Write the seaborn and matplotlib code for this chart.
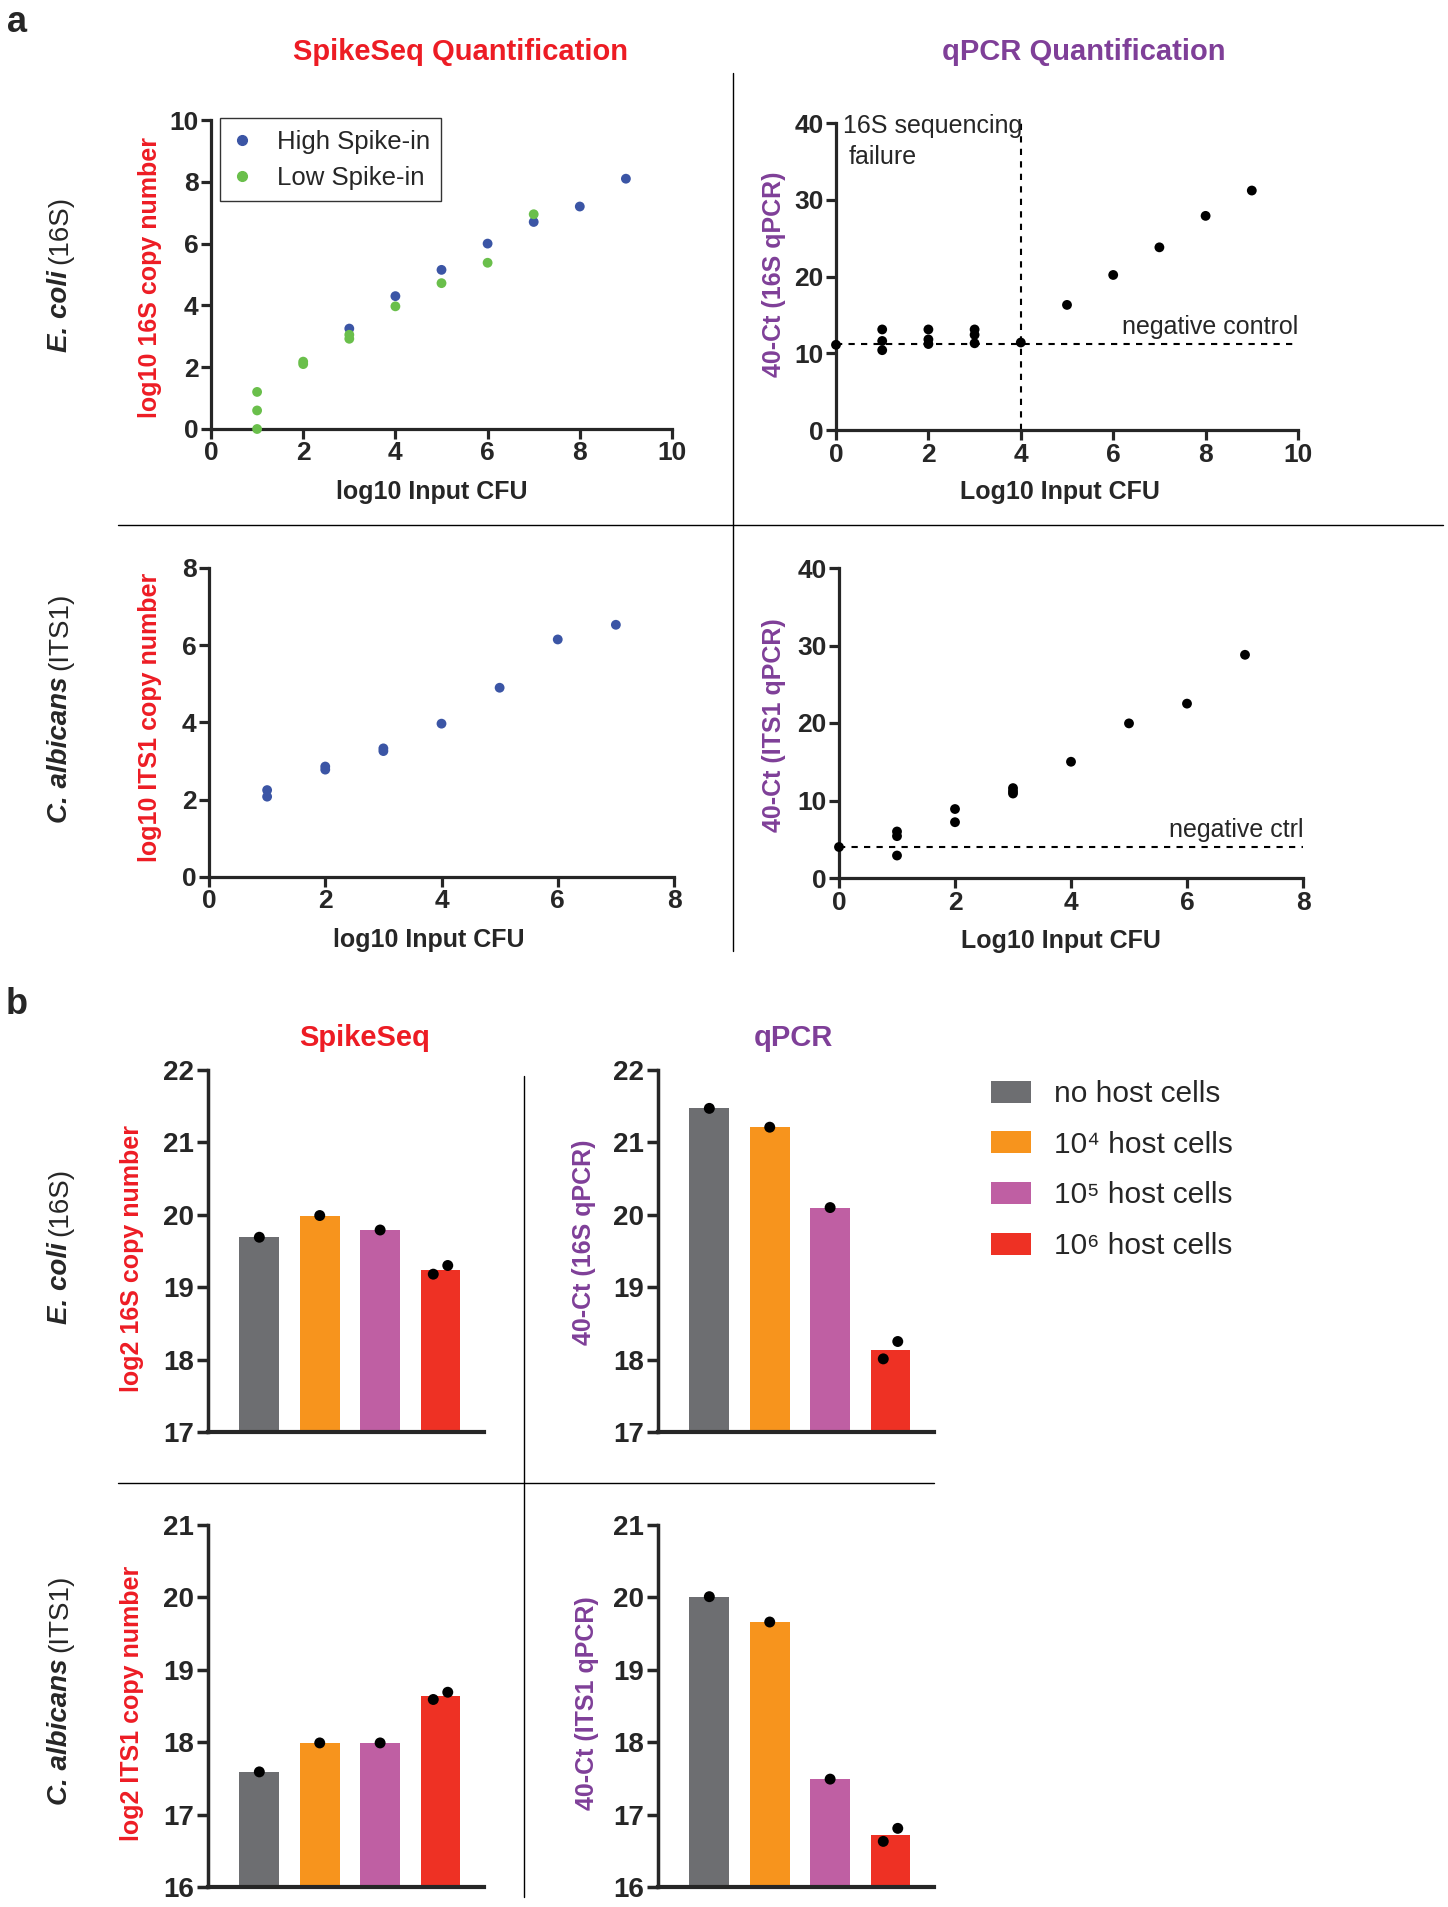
import numpy as np
import pandas as pd
import matplotlib

matplotlib.use("Agg")
import matplotlib.pyplot as plt
import seaborn as sns
from matplotlib.lines import Line2D
from matplotlib.patches import Patch

# ---- datos: panel a ----
ecoli_high_x = [3, 4, 5, 6, 7, 8, 9]
ecoli_high_y = [3.25, 4.3, 5.15, 6.0, 6.7, 7.2, 8.1]
ecoli_low_x = [1, 1, 1, 2, 2, 3, 3, 4, 5, 6, 7]
ecoli_low_y = [1.2, 0.6, 0.0, 2.18, 2.1, 3.05, 2.92, 3.97, 4.72, 5.38, 6.95]

qpcr16_x = [0, 1, 1, 1, 2, 2, 2, 3, 3, 3, 4, 5, 6, 7, 8, 9]
qpcr16_y = [11.1, 13.1, 11.6, 10.4, 13.1, 11.8, 11.2, 13.1, 12.4, 11.3, 11.4,
            16.3, 20.2, 23.8, 27.9, 31.2]
neg_ctrl_16s = 11.2
seq_failure_x = 4

calb_x = [1, 1, 2, 2, 3, 3, 4, 5, 6, 7]
calb_y = [2.25, 2.08, 2.86, 2.78, 3.33, 3.26, 3.97, 4.9, 6.15, 6.53]

qpcr_its_x = [0, 1, 1, 1, 2, 2, 3, 3, 3, 4, 5, 6, 7]
qpcr_its_y = [4.0, 6.0, 5.4, 2.9, 8.9, 7.2, 11.6, 11.2, 10.9, 15.0, 19.95, 22.5, 28.8]
neg_ctrl_its = 4.0

# ---- datos: panel b ----
grupos = ["no host cells", "10\u2074 host cells", "10\u2075 host cells", "10\u2076 host cells"]
spike_16s = [[19.69], [19.99], [19.79], [19.18, 19.30]]
qpcr_16s = [[21.47], [21.21], [20.10], [18.01, 18.25]]
spike_its = [[17.59], [17.99], [17.99], [18.59, 18.69]]
qpcr_its = [[20.01], [19.66], [17.49], [16.63, 16.81]]

# ---- colores ----
ROJO = "#ed1c24"
MORADO = "#7f3f98"
AZUL = "#3b55a5"
VERDE = "#6abf4b"
colores_barras = ["#6d6e71", "#f7941d", "#bf5fa3", "#ee3124"]

sns.set_style("ticks")
plt.rcParams["font.family"] = ["Liberation Sans", "DejaVu Sans"]
plt.rcParams["font.weight"] = "bold"

W, H = 1448, 1907
fig = plt.figure(figsize=(W / 100, H / 100), dpi=100)


def rect(l, t, r, b):
    return [l / W, 1 - b / H, (r - l) / W, (b - t) / H]


def ftext(x, y, s, **kw):
    return fig.text(x / W, 1 - y / H, s, **kw)


def fline(x0, y0, x1, y1):
    fig.add_artist(Line2D([x0 / W, x1 / W], [1 - y0 / H, 1 - y1 / H],
                          transform=fig.transFigure, color="black", lw=1))


def estilo(ax, fs, lw=2.3, largo=7):
    sns.despine(ax=ax)
    for s in ["left", "bottom"]:
        ax.spines[s].set_linewidth(lw)
    ax.tick_params(width=lw, length=largo, labelsize=fs, pad=2)


def scatter(ax, x, y, color):
    sns.scatterplot(x=x, y=y, color=color, s=50, edgecolor="none", ax=ax,
                    clip_on=False, zorder=3, legend=False)


normal = dict(fontweight="normal")

# ---------------- panel a ----------------
ax1 = fig.add_axes(rect(211, 120, 672, 429))
scatter(ax1, ecoli_high_x, ecoli_high_y, AZUL)
scatter(ax1, ecoli_low_x, ecoli_low_y, VERDE)
ax1.set_xlim(0, 10)
ax1.set_ylim(0, 10)
ax1.set_xticks(range(0, 11, 2))
ax1.set_yticks(range(0, 11, 2))
estilo(ax1, 19)
handles = [
    Line2D([], [], marker="o", ls="", color=AZUL, markersize=7, label="High Spike-in"),
    Line2D([], [], marker="o", ls="", color=VERDE, markersize=7, label="Low Spike-in"),
]
leg = ax1.legend(handles=handles, loc="upper left", bbox_to_anchor=(0.02, 1.005),
                 borderaxespad=0, prop={"size": 18.5, "weight": "normal"},
                 frameon=True, fancybox=False, handlelength=0.8,
                 handletextpad=0.95, borderpad=0.45, labelspacing=0.45)
leg.get_frame().set_edgecolor("black")
leg.get_frame().set_linewidth(1)

ax2 = fig.add_axes(rect(836, 123, 1298, 430))
scatter(ax2, qpcr16_x, qpcr16_y, "black")
ax2.set_xlim(0, 10)
ax2.set_ylim(0, 40)
ax2.set_xticks(range(0, 11, 2))
ax2.set_yticks(range(0, 41, 10))
ax2.axhline(neg_ctrl_16s, color="black", lw=1.5, ls=(0, (3, 3)))
ax2.axvline(seq_failure_x, color="black", lw=1.5, ls=(0, (3, 3)))
ax2.text(0.15, 39.6, "16S sequencing", fontsize=18, va="center", ha="left", **normal)
ax2.text(0.28, 35.6, "failure", fontsize=18, va="center", ha="left", **normal)
ax2.text(10, 13.4, "negative control", fontsize=18, va="center", ha="right", **normal)
estilo(ax2, 19)

ax3 = fig.add_axes(rect(209, 568, 674, 877))
scatter(ax3, calb_x, calb_y, AZUL)
ax3.set_xlim(0, 8)
ax3.set_ylim(0, 8)
ax3.set_xticks(range(0, 9, 2))
ax3.set_yticks(range(0, 9, 2))
estilo(ax3, 19)

ax4 = fig.add_axes(rect(839, 568, 1303, 878))
scatter(ax4, qpcr_its_x, qpcr_its_y, "black")
ax4.set_xlim(0, 8)
ax4.set_ylim(0, 40)
ax4.set_xticks(range(0, 9, 2))
ax4.set_yticks(range(0, 41, 10))
ax4.axhline(neg_ctrl_its, color="black", lw=1.5, ls=(0, (3, 3)))
ax4.text(8, 6.2, "negative ctrl", fontsize=18, va="center", ha="right", **normal)
estilo(ax4, 19)


# ---------------- panel b ----------------
def barras(ax, valores, ymin, ymax):
    df = pd.DataFrame(
        [(g, v) for g, vals in zip(grupos, valores) for v in vals],
        columns=["grupo", "valor"],
    )
    sns.barplot(data=df, x="grupo", y="valor", hue="grupo", order=grupos,
                hue_order=grupos, palette=colores_barras, saturation=1,
                errorbar=None, width=0.66, linewidth=0, legend=False, ax=ax)
    for i, vals in enumerate(valores):
        vs = sorted(vals)
        offs = np.linspace(-0.12, 0.12, len(vs)) if len(vs) > 1 else [0]
        ax.scatter(np.array(offs) + i, vs, s=62, color="black", zorder=3,
                   clip_on=False, edgecolor="none")
    ax.set_xlim(-0.85, 3.72)
    ax.set_ylim(ymin, ymax)
    ax.set_yticks(range(ymin, ymax + 1))
    ax.set_xticks([])
    ax.set_xlabel("")
    ax.set_ylabel("")
    estilo(ax, 20, lw=2.5, largo=8)
    ax.spines["bottom"].set_linewidth(3)


b1 = fig.add_axes(rect(208, 1070, 484, 1432))
barras(b1, spike_16s, 17, 22)
b2 = fig.add_axes(rect(658, 1070, 934, 1432))
barras(b2, qpcr_16s, 17, 22)
b3 = fig.add_axes(rect(208, 1525, 484, 1887))
barras(b3, spike_its, 16, 21)
b4 = fig.add_axes(rect(658, 1525, 934, 1887))
barras(b4, qpcr_its, 16, 21)

parches = [Patch(facecolor=c, edgecolor="none", label=g)
           for c, g in zip(colores_barras, grupos)]
fig.legend(handles=parches, loc="upper left",
           bbox_to_anchor=(991 / W, 1 - 1080 / H), borderaxespad=0, borderpad=0,
           frameon=False, prop={"size": 21.5, "weight": "normal"},
           handlelength=1.35, handleheight=0.75, handletextpad=0.75,
           labelspacing=0.76)

# ---------------- textos ----------------
ftext(17, 22, "a", fontsize=26, ha="center", va="center")
ftext(17, 1004, "b", fontsize=26, ha="center", va="center")
ftext(460, 52, "SpikeSeq Quantification", fontsize=21, color=ROJO,
      ha="center", va="center")
ftext(1084, 52, "qPCR Quantification", fontsize=21, color=MORADO,
      ha="center", va="center")
ftext(365, 1038, "SpikeSeq", fontsize=21, color=ROJO, ha="center", va="center")
ftext(793, 1038, "qPCR", fontsize=21, color=MORADO, ha="center", va="center")

# etiquetas de fila: especie en cursiva + marcador en normal
renderer = fig.canvas.get_renderer()


def etiqueta_fila(yc, especie, resto, xb=67, fs=20):
    t1 = ftext(xb, yc, especie, fontsize=fs, fontstyle="italic", rotation=90,
               rotation_mode="anchor", ha="left", va="baseline")
    t2 = ftext(xb, yc, resto, fontsize=fs, fontweight="normal", rotation=90,
               rotation_mode="anchor", ha="left", va="baseline")
    h1 = t1.get_window_extent(renderer).height
    h2 = t2.get_window_extent(renderer).height
    gap = fs * 0.3
    total = h1 + gap + h2
    y0 = yc + total / 2
    t1.set_position((xb / W, 1 - y0 / H))
    t2.set_position((xb / W, 1 - (y0 - h1 - gap) / H))


etiqueta_fila(274, "E. coli", "(16S)")
etiqueta_fila(708, "C. albicans", "(ITS1)")
etiqueta_fila(1246, "E. coli", "(16S)")
etiqueta_fila(1690, "C. albicans", "(ITS1)")

etiquetas_y = [
    (150, 277, "log10 16S copy number", ROJO),
    (774, 274, "40-Ct (16S qPCR)", MORADO),
    (150, 717, "log10 ITS1 copy number", ROJO),
    (774, 725, "40-Ct (ITS1 qPCR)", MORADO),
    (132, 1258, "log2 16S copy number", ROJO),
    (584, 1242, "40-Ct (16S qPCR)", MORADO),
    (132, 1703, "log2 ITS1 copy number", ROJO),
    (587, 1703, "40-Ct (ITS1 qPCR)", MORADO),
]
for x, y, s, c in etiquetas_y:
    ftext(x, y, s, fontsize=18, color=c, rotation=90, ha="center", va="center")

for x, y, s in [(432, 492, "log10 Input CFU"), (1060, 492, "Log10 Input CFU"),
                (429, 940, "log10 Input CFU"), (1061, 941, "Log10 Input CFU")]:
    ftext(x, y, s, fontsize=18, ha="center", va="center")

# lineas separadoras
fline(733, 73, 733, 951)
fline(118, 525, 1443, 525)
fline(524, 1076, 524, 1897)
fline(118, 1483, 934, 1483)

fig.savefig("out.png", dpi=100)
